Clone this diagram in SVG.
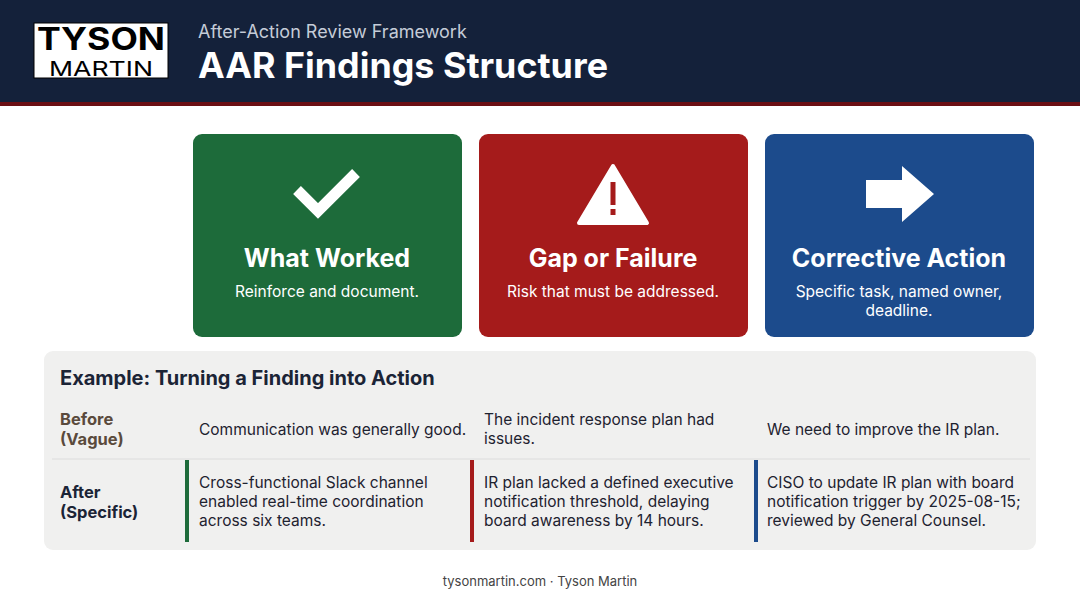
<svg xmlns="http://www.w3.org/2000/svg" width="1080" height="603" viewBox="0 0 1080 603">
<style>
text{font-family:Inter,"Noto Sans","Liberation Sans",sans-serif}
.ct{fill:#fff;font-size:25px;font-weight:700;text-anchor:middle}
.cs{fill:#fff;font-size:15.5px;text-anchor:middle}
.b{fill:#1e2230;font-size:15.5px}
.lbl{font-size:16.5px;font-weight:700}
</style>
<rect width="1080" height="603" fill="#fff"/>
<g id="header">
<rect width="1080" height="103" fill="#14213a"/>
<rect y="102" width="1080" height="4" fill="#6b0f14"/>
<rect x="34" y="23" width="134" height="55" fill="#fff" stroke="#000"/>
<text x="101" y="50" text-anchor="middle" font-size="31" font-weight="700" fill="#000" font-family="Liberation Sans,sans-serif" textLength="128" lengthAdjust="spacingAndGlyphs">TYSON</text>
<text x="101" y="76" text-anchor="middle" font-size="20" fill="#000" font-family="Liberation Sans,sans-serif" textLength="104" lengthAdjust="spacingAndGlyphs">MARTIN</text>
<text x="198" y="38" font-size="18" fill="#c5ccd8">After-Action Review Framework</text>
<text x="198" y="78" font-size="35" font-weight="700" fill="#fff" textLength="410" lengthAdjust="spacingAndGlyphs">AAR Findings Structure</text>
</g>
<g id="card-worked">
<rect x="193" y="134" width="269" height="203" rx="9" fill="#1d6b3a"/>
<path d="M297 190 L318 211 L356 173" stroke="#fff" stroke-width="11" fill="none"/>
<text class="ct" x="327" y="267">What Worked</text>
<text class="cs" x="327" y="297">Reinforce and document.</text>
</g>
<g id="card-gap">
<rect x="479" y="134" width="269" height="203" rx="9" fill="#a51b1b"/>
<path d="M613 166 L647 223 L579 223 Z" fill="#fff" stroke="#fff" stroke-width="4" stroke-linejoin="round"/>
<rect x="610.5" y="182" width="5" height="23" fill="#a51b1b"/>
<rect x="610.5" y="209" width="5" height="6" fill="#a51b1b"/>
<text class="ct" x="613" y="267">Gap or Failure</text>
<text class="cs" x="613" y="297">Risk that must be addressed.</text>
</g>
<g id="card-action">
<rect x="765" y="134" width="269" height="203" rx="9" fill="#1c4b8c"/>
<path d="M866 180 H902 V166 L934 194 L902 222 V208 H866 Z" fill="#fff"/>
<text class="ct" x="899" y="267">Corrective Action</text>
<text class="cs" x="899" y="297">Specific task, named owner,</text>
<text class="cs" x="899" y="316">deadline.</text>
</g>
<g id="example">
<rect x="44" y="351" width="992" height="199" rx="9" fill="#f0f0ef"/>
<text x="60" y="385" font-size="20" font-weight="700" fill="#1b2436">Example: Turning a Finding into Action</text>
<text class="lbl" x="60" y="425" fill="#5a4a3c">Before</text>
<text class="lbl" x="60" y="445" fill="#5a4a3c">(Vague)</text>
<line x1="52" y1="459" x2="1030" y2="459" stroke="#dcdcdc"/>
<text class="lbl" x="60" y="498" fill="#1b2436">After</text>
<text class="lbl" x="60" y="518" fill="#1b2436">(Specific)</text>
<text class="b" x="199" y="435">Communication was generally good.</text>
<text class="b" x="484" y="425">The incident response plan had</text>
<text class="b" x="484" y="444">issues.</text>
<text class="b" x="767" y="435">We need to improve the IR plan.</text>
<rect x="185" y="460" width="4" height="82" fill="#1d6b3a"/>
<rect x="470" y="460" width="4" height="82" fill="#a51b1b"/>
<rect x="754" y="460" width="4" height="82" fill="#1c4b8c"/>
<text class="b" x="199" y="488">Cross-functional Slack channel</text>
<text class="b" x="199" y="507">enabled real-time coordination</text>
<text class="b" x="199" y="526">across six teams.</text>
<text class="b" x="484" y="488">IR plan lacked a defined executive</text>
<text class="b" x="484" y="507">notification threshold, delaying</text>
<text class="b" x="484" y="526">board awareness by 14 hours.</text>
<text class="b" x="767" y="488">CISO to update IR plan with board</text>
<text class="b" x="767" y="507">notification trigger by 2025-08-15;</text>
<text class="b" x="767" y="526">reviewed by General Counsel.</text>
</g>
<text x="540" y="586" text-anchor="middle" font-size="13" fill="#444">tysonmartin.com · Tyson Martin</text>
</svg>
